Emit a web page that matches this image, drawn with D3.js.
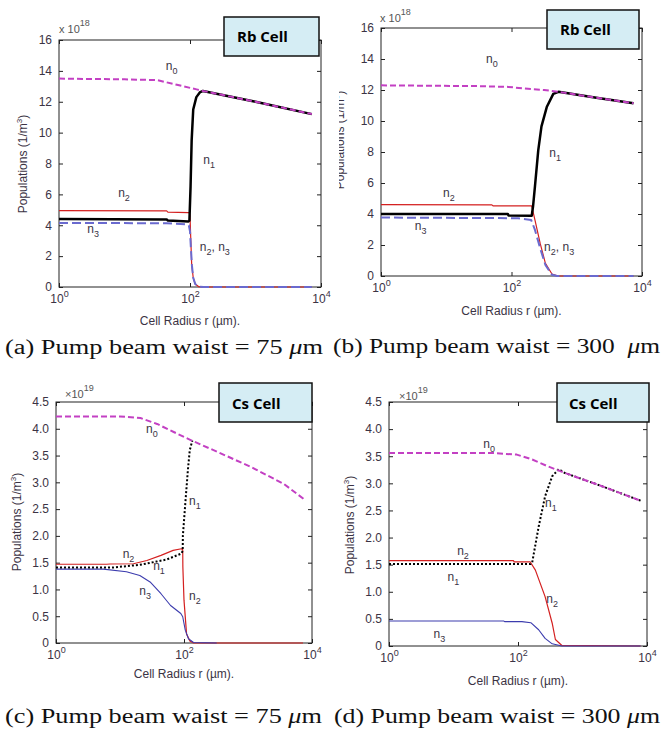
<!DOCTYPE html>
<html>
<head>
<meta charset="utf-8">
<script src="https://cdn.jsdelivr.net/npm/d3@7"></script>
<style>
  body { margin: 0; background: #fff; }
  svg { display: block; }
  text { font-family: "Liberation Sans", Arial, sans-serif; fill: #3b3344; }
</style>
</head>
<body>
<div id="chart"></div>
<script>
// populations: [cell radius r (µm), population]
// Rb cell values are x 10^18 1/m^3, Cs cell values are x 10^19 1/m^3
const rbA_n0 = [[1,13.5],[10,13.45],[31.6,13.4],[63,13.1],[126,12.8],[158,12.7],[1000,12.0],[7244,11.2]];
const rbA_n1 = [[1,4.4],[44,4.38],[46,4.3],[95,4.25],[98,4.3],[102,6.5],[106,9.5],[112,11.5],[125,12.3],[141,12.6],[158,12.7],[1000,12.0],[7244,11.2]];
const rbA_n2 = [[1,4.95],[44,4.93],[46,4.85],[95,4.82],[98,4.8],[100,4.6],[103,3.0],[106,1.5],[112,0.6],[120,0.2],[135,0.03],[160,0],[7244,0]];
const rbA_n3 = [[1,4.15],[44,4.13],[89,4.05],[96,4.0],[100,3.6],[103,2.6],[107,1.4],[112,0.6],[120,0.2],[135,0.03],[160,0],[7244,0]];

const rbB_n0 = [[1,12.3],[31.6,12.25],[89,12.2],[158,12.1],[316,12.0],[525,11.88],[1995,11.5],[7413,11.15]];
const rbB_n1 = [[1,4.0],[88,4.0],[90,3.9],[204,3.88],[214,4.5],[229,5.8],[257,8.1],[288,9.65],[347,10.9],[437,11.75],[525,11.88],[1995,11.5],[7413,11.15]];
const rbB_n2 = [[1,4.6],[50,4.59],[52,4.53],[204,4.52],[229,3.6],[275,2.1],[331,0.82],[417,0.13],[501,0.01],[7413,0]];
const rbB_n3 = [[1,3.77],[126,3.73],[200,3.62],[229,2.97],[275,1.79],[331,0.71],[417,0.08],[501,0],[7413,0]];

const csC_n0 = [[1,4.23],[10,4.23],[20.9,4.2],[38,4.09],[69,3.94],[132,3.78],[331,3.57],[1096,3.29],[3631,2.97],[7413,2.69]];
const csC_n1 = [[1,1.41],[7.8,1.41],[20.4,1.46],[37,1.52],[54,1.56],[91,1.67],[95.5,1.72],[96,2.0],[104.7,2.6],[114.8,3.22],[123,3.6],[135,3.78]];
const csC_n2 = [[1,1.47],[6.2,1.47],[7,1.475],[16.2,1.48],[26.3,1.54],[43.7,1.637],[67.6,1.73],[91.2,1.76],[95.5,1.74],[96,1.42],[100,0.8],[109.6,0.17],[123,0.04],[141,0],[7244,0]];
const csC_n3 = [[1,1.38],[5.5,1.38],[12.6,1.33],[20.4,1.26],[29.5,1.14],[43.7,0.92],[61.7,0.70],[89.1,0.55],[95.5,0.49],[104.7,0.24],[117.5,0.08],[141,0.01],[324,0]];

const csD_n0 = [[1,3.56],[40,3.56],[95.5,3.53],[166,3.44],[295,3.31],[537,3.19],[1778,2.97],[7943,2.68]];
const csD_n1 = [[1,1.51],[155,1.51],[166,1.54],[209,2.2],[263,2.76],[339,3.13],[427,3.26],[537,3.19],[1778,2.97],[7943,2.68]];
const csD_n2 = [[1,1.575],[85,1.575],[87,1.55],[155,1.55],[186,1.40],[263,0.91],[339,0.42],[380,0.12],[479,0.01],[7943,0]];
const csD_n3 = [[1,0.46],[60,0.46],[62,0.45],[115,0.45],[158,0.43],[209,0.30],[263,0.14],[339,0.04],[479,0],[7943,0]];

// axis ticks
const xTicks = [1, 100, 10000];
const rbTicks = [0, 2, 4, 6, 8, 10, 12, 14, 16];
const csTicks = [0, 0.5, 1, 1.5, 2, 2.5, 3, 3.5, 4, 4.5];

// curve labels: [r, population, level subscripts]
const rbA_labels = [[42.7,14.05,["0"]],[159,8.0,["1"]],[8.0,5.85,["2"]],[2.7,3.48,["3"]],[141,2.35,["2","3"]]];
const rbB_labels = [[40.7,13.72,["0"]],[380,7.7,["1"]],[8.9,5.12,["2"]],[3.3,2.97,["3"]],[316,1.63,["2","3"]]];
const csC_labels = [[25.5,3.92,["0"]],[120,2.58,["1"]],[11,1.58,["2"]],[33,1.36,["1"]],[20,0.9,["3"]],[120,0.8,["2"]]];
const csD_labels = [[29,3.65,["0"]],[263,2.57,["1"]],[11.4,1.68,["2"]],[8.1,1.19,["1"]],[275,0.79,["2"]],[4.9,0.14,["3"]]];

const W = 664, H = 740;
const svg = d3.select("#chart").append("svg").attr("width", W).attr("height", H);

const n0Style = {stroke: "#c340c3", width: 2, dash: "6,3"};
const n2Style = {stroke: "#d42020", width: 1.2, dash: null};

const panels = [
  {left: 59, right: 321, top: 40, bottom: 287, ymax: 16, yTicks: rbTicks, fmt: d => d,
   exp: "18", expX: 59, expY: 33, times: "x 10",
   series: [rbA_n2, rbA_n3, rbA_n1, rbA_n0], labels: rbA_labels,
   n1: {stroke: "#000", width: 2.5, dash: null}, n3: {stroke: "#6a6acf", width: 2, dash: "9,4"},
   cell: "Rb Cell", box: [224, 17, 95, 39], cellText: [237, 42],
   yTitle: [27, 164], yClip: null, xTitleY: 325,
   caption: ["(a) Pump beam waist = 75 ", 5, 354, 318]},
  {left: 381, right: 642, top: 28, bottom: 276, ymax: 16, yTicks: rbTicks, fmt: d => d,
   exp: "18", expX: 380, expY: 22, times: "x 10",
   series: [rbB_n2, rbB_n3, rbB_n1, rbB_n0], labels: rbB_labels,
   n1: {stroke: "#000", width: 2.5, dash: null}, n3: {stroke: "#6a6acf", width: 2, dash: "9,4"},
   cell: "Rb Cell", box: [547, 10, 92, 39], cellText: [560, 35],
   yTitle: [344, 140], yClip: 339, xTitleY: 315,
   caption: ["(b) Pump beam waist = 300  ", 333, 353, 327]},
  {left: 56, right: 312, top: 402, bottom: 643, ymax: 4.5, yTicks: csTicks, fmt: d => d === 0 ? "0" : d.toFixed(1),
   exp: "19", expX: 65, expY: 398, times: "\u00d710",
   series: [csC_n2, csC_n3, csC_n1, csC_n0], labels: csC_labels,
   n1: {stroke: "#000", width: 2, dash: "2,2"}, n3: {stroke: "#3c3cae", width: 1.1, dash: null},
   cell: "Cs Cell", box: [219, 383, 93, 39], cellText: [232, 409],
   yTitle: [21, 522], yClip: null, xTitleY: 678,
   caption: ["(c) Pump beam waist = 75 ", 5, 723, 317]},
  {left: 389, right: 647, top: 402, bottom: 646, ymax: 4.5, yTicks: csTicks, fmt: d => d === 0 ? "0" : d.toFixed(1),
   exp: "19", expX: 399, expY: 400, times: "\u00d710",
   series: [csD_n2, csD_n3, csD_n1, csD_n0], labels: csD_labels,
   n1: {stroke: "#000", width: 2, dash: "2,2"}, n3: {stroke: "#3c3cae", width: 1.1, dash: null},
   cell: "Cs Cell", box: [557, 383, 92, 39], cellText: [569, 409],
   yTitle: [354, 525], yClip: null, xTitleY: 685,
   caption: ["(d) Pump beam waist = 300 ", 334, 723, 326]}
];

panels.forEach((p, i) => {
  const x = d3.scaleLog().domain([1, 1e4]).range([p.left, p.right]);
  const y = d3.scaleLinear().domain([0, p.ymax]).range([p.bottom, p.top]);
  const g = svg.append("g");

  // plot frame
  g.append("rect")
    .attr("x", p.left).attr("y", p.top)
    .attr("width", p.right - p.left).attr("height", p.bottom - p.top)
    .attr("fill", "none").attr("stroke", "#222").attr("stroke-width", 1);

  // bottom axis with labels 10^k
  const xb = g.append("g").attr("transform", `translate(0,${p.bottom})`)
    .call(d3.axisBottom(x).tickValues(xTicks).tickSizeInner(-4).tickSizeOuter(0).tickPadding(7));
  xb.selectAll(".tick text").text(null).attr("font-size", 12).attr("fill", "#3b3344")
    .each(function(d) {
      const t = d3.select(this);
      t.append("tspan").text("10");
      t.append("tspan").attr("dy", -6).attr("font-size", 9).text(Math.round(Math.log10(d)));
    });
  g.append("g").attr("transform", `translate(0,${p.top})`)
    .call(d3.axisTop(x).tickValues(xTicks).tickSizeInner(-4).tickSizeOuter(0).tickFormat(""));
  const yl = g.append("g").attr("transform", `translate(${p.left},0)`)
    .call(d3.axisLeft(y).tickValues(p.yTicks).tickSizeInner(-4).tickSizeOuter(0).tickPadding(7).tickFormat(p.fmt));
  yl.selectAll(".tick text").attr("font-size", 12).attr("fill", "#3b3344");
  g.append("g").attr("transform", `translate(${p.right},0)`)
    .call(d3.axisRight(y).tickValues(p.yTicks).tickSizeInner(-4).tickSizeOuter(0).tickFormat(""));
  g.selectAll(".domain").remove();
  g.selectAll(".tick line").attr("stroke", "#222");

  // curves
  const line = d3.line().x(d => x(d[0])).y(d => y(d[1]));
  const styles = [n2Style, p.n3, p.n1, n0Style];
  p.series.forEach((s, k) => {
    const st = styles[k];
    g.append("path").datum(s).attr("d", line)
      .attr("fill", "none").attr("stroke", st.stroke).attr("stroke-width", st.width)
      .attr("stroke-dasharray", st.dash).attr("stroke-linejoin", "round");
  });

  // curve labels n_k
  p.labels.forEach(([r, v, subs]) => {
    const t = g.append("text").attr("x", x(r)).attr("y", y(v)).attr("font-size", 12);
    subs.forEach((s, j) => {
      t.append("tspan").attr("dy", j === 0 ? 0 : -4).text(j === 0 ? "n" : ", n");
      t.append("tspan").attr("dy", 4).attr("font-size", 9).text(s);
    });
  });

  // exponent
  const e = g.append("text").attr("x", p.expX).attr("y", p.expY).attr("font-size", 11).style("fill", "#555");
  e.append("tspan").text(p.times);
  e.append("tspan").attr("dy", -7).attr("font-size", 9).text(p.exp);

  // axis titles
  g.append("text").attr("x", (p.left + p.right) / 2).attr("y", p.xTitleY)
    .attr("text-anchor", "middle").attr("font-size", 12).text("Cell Radius r (\u00b5m).");
  let yg = g;
  if (p.yClip !== null) {
    svg.append("clipPath").attr("id", "yclip" + i).append("rect")
      .attr("x", p.yClip).attr("y", 0).attr("width", 100).attr("height", H);
    yg = g.append("g").attr("clip-path", `url(#yclip${i})`);
  }
  const yt = yg.append("text").attr("transform", `translate(${p.yTitle[0]},${p.yTitle[1]}) rotate(-90)`)
    .attr("text-anchor", "middle").attr("font-size", 12);
  yt.append("tspan").text("Populations (1/m");
  yt.append("tspan").attr("dy", -5).attr("font-size", 8).text("3");
  yt.append("tspan").attr("dy", 5).text(")");

  // cell box
  g.append("rect").attr("x", p.box[0]).attr("y", p.box[1]).attr("width", p.box[2]).attr("height", p.box[3])
    .attr("fill", "#d5edf4").attr("stroke", "#111").attr("stroke-width", 1.5);
  g.append("text").attr("x", p.cellText[0]).attr("y", p.cellText[1])
    .style("font-family", "'Open Sans', sans-serif").attr("font-weight", "bold").attr("font-size", 15)
    .style("fill", "#000").text(p.cell);

  // caption
  const c = svg.append("text").attr("x", p.caption[1]).attr("y", p.caption[2])
    .style("font-family", "'Liberation Serif', 'DejaVu Serif', serif").attr("font-size", 20)
    .style("fill", "#111").style("white-space", "pre")
    .attr("textLength", p.caption[3]).attr("lengthAdjust", "spacingAndGlyphs");
  c.append("tspan").text(p.caption[0]);
  c.append("tspan").attr("font-style", "italic").text("\u03bc");
  c.append("tspan").text("m");
});
</script>
</body>
</html>
